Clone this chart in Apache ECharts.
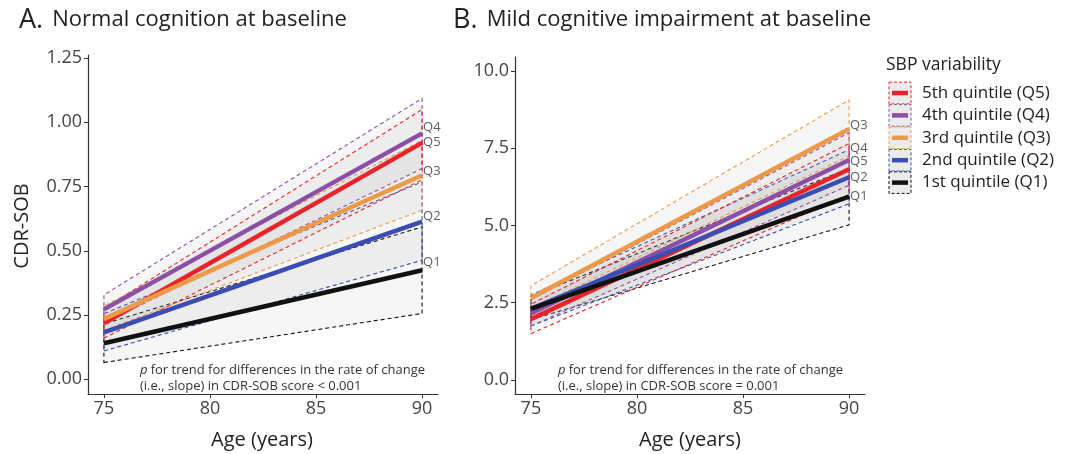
<!DOCTYPE html>
<html>
<head>
<meta charset="utf-8">
<script src="https://cdn.jsdelivr.net/npm/echarts@6/dist/echarts.min.js"></script>
<style>
  html, body { margin: 0; padding: 0; background: #fff; }
  #chart { width: 1069px; height: 454px; }
</style>
</head>
<body>
<div id="chart"></div>
<script>
// ages at the two ends of each fitted line
const ages = [75, 90];
const quintiles = ['Q1', 'Q2', 'Q3', 'Q4', 'Q5'];
const colors = ['#111111', '#3b4cb2', '#ec9a48', '#8b50a6', '#e8242a'];

// A. normal cognition, values ordered Q1..Q5
const normStart = [0.140, 0.182, 0.235, 0.272, 0.218];
const normEnd = [0.424, 0.613, 0.794, 0.957, 0.920];
const normLoStart = [0.065, 0.110, 0.190, 0.220, 0.160];
const normLoEnd = [0.256, 0.463, 0.658, 0.820, 0.776];
const normHiStart = [0.215, 0.255, 0.285, 0.328, 0.275];
const normHiEnd = [0.593, 0.768, 0.930, 1.093, 1.050];
const normLabelY = [0.457, 0.635, 0.811, 0.982, 0.924];

// B. mild cognitive impairment, values ordered Q1..Q5
const mciStart = [2.30, 2.30, 2.65, 2.15, 1.97];
const mciEnd = [5.93, 6.56, 8.12, 7.12, 6.82];
const mciLoStart = [1.95, 1.75, 2.30, 1.75, 1.50];
const mciLoEnd = [5.02, 5.70, 7.25, 6.30, 6.00];
const mciHiStart = [2.70, 2.75, 3.05, 2.60, 2.45];
const mciHiEnd = [6.85, 7.45, 9.06, 8.00, 7.65];
const mciLabelY = [5.95, 6.56, 8.25, 7.50, 7.08];

const xTicks = [75, 80, 85, 90];
const normTicks = [0, 0.25, 0.5, 0.75, 1.0, 1.25];
const mciTicks = [0, 2.5, 5.0, 7.5, 10.0];
const legendNames = ['5th quintile (Q5)', '4th quintile (Q4)', '3rd quintile (Q3)',
  '2nd quintile (Q2)', '1st quintile (Q1)'];

const font = 'Open Sans';
const axisColor = '#333';
const textColor = '#444';

const chart = echarts.init(document.getElementById('chart'), null, { renderer: 'canvas' });

const bandItem = (params, api) => {
  const p0 = api.coord([api.value(0), api.value(1)]);
  const p1 = api.coord([api.value(3), api.value(4)]);
  const p2 = api.coord([api.value(3), api.value(5)]);
  const p3 = api.coord([api.value(0), api.value(2)]);
  return {
    type: 'polygon',
    shape: { points: [p0, p1, p2, p3] },
    style: {
      fill: 'rgba(150,150,150,0.085)',
      stroke: api.visual('color'),
      lineWidth: 1.1,
      lineDash: [4, 3],
    },
  };
};

const buildSeries = (gi, start, end, loS, loE, hiS, hiE, labY) => {
  const out = [];
  quintiles.forEach((q, i) => {
    out.push({
      type: 'custom',
      xAxisIndex: gi,
      yAxisIndex: gi,
      renderItem: bandItem,
      itemStyle: { color: colors[i] },
      data: [[ages[0], loS[i], hiS[i], ages[1], loE[i], hiE[i]]],
      encode: { x: [0, 3], y: [1, 2, 4, 5] },
      silent: true,
      z: 1,
    });
  });
  // draw Q5 first so Q1 ends on top
  for (let i = quintiles.length - 1; i >= 0; i--) {
    out.push({
      type: 'line',
      xAxisIndex: gi,
      yAxisIndex: gi,
      data: [[ages[0], start[i]], [ages[1], end[i]]],
      showSymbol: false,
      lineStyle: { color: colors[i], width: 4.5 },
      silent: true,
      z: 3,
    });
  }
  out.push({
    type: 'scatter',
    xAxisIndex: gi,
    yAxisIndex: gi,
    symbolSize: 0,
    data: quintiles.map((q, i) => ({ name: q, value: [ages[1], labY[i]] })),
    label: {
      show: true,
      position: 'right',
      distance: 1,
      formatter: '{b}',
      color: '#333',
      fontFamily: font,
      fontSize: 13,
    },
    silent: true,
    z: 4,
  });
  return out;
};

const xAxisOf = (gi) => ({
  type: 'value',
  gridIndex: gi,
  min: 74.25,
  max: 90.75,
  axisLine: { show: true, onZero: false, lineStyle: { color: axisColor, width: 1.2 } },
  axisTick: { show: true, length: 4, customValues: xTicks, lineStyle: { color: axisColor } },
  axisLabel: { customValues: xTicks, color: textColor, fontFamily: font, fontSize: 18, margin: 6 },
  splitLine: { show: false },
});

const yAxisOf = (gi, min, max, ticks, digits) => ({
  type: 'value',
  gridIndex: gi,
  min,
  max,
  axisLine: { show: true, onZero: false, lineStyle: { color: axisColor, width: 1.2 } },
  axisTick: { show: true, length: 4, customValues: ticks, lineStyle: { color: axisColor } },
  axisLabel: {
    customValues: ticks,
    color: textColor,
    fontFamily: font,
    fontSize: 18,
    margin: 6,
    formatter: (v) => v.toFixed(digits),
  },
  splitLine: { show: false },
});

const txt = (x, y, text, extra) => ({
  type: 'text',
  x,
  y,
  style: Object.assign({ text, fontFamily: font, fill: '#222' }, extra),
});

const noteRich = {
  i: { fontStyle: 'italic', fontFamily: font, fontSize: 13, fill: '#333' },
  n: { fontFamily: font, fontSize: 13, fill: '#333' },
};

const titleRich = {
  a: { fontSize: 27, fontFamily: font, fill: '#222', padding: [0, 6, 0, 0] },
  b: { fontSize: 22, fontFamily: font, fill: '#222' },
};

const graphics = [
  txt(19, 20, '{a|A.} {b|Normal cognition at baseline}', { verticalAlign: 'middle', rich: titleRich }),
  txt(453, 20, '{a|B.} {b|Mild cognitive impairment at baseline}', { verticalAlign: 'middle', rich: titleRich }),
  {
    type: 'text',
    x: 22,
    y: 226,
    rotation: Math.PI / 2,
    style: { text: 'CDR-SOB', fontFamily: font, fontSize: 20, fill: '#222', align: 'center', verticalAlign: 'middle' },
  },
  txt(262, 440, 'Age (years)', { fontSize: 20, align: 'center', verticalAlign: 'middle' }),
  txt(690, 440, 'Age (years)', { fontSize: 20, align: 'center', verticalAlign: 'middle' }),
  txt(140, 363, '{i|p} {n|for trend for differences in the rate of change}\n{n|(i.e., slope) in CDR-SOB score < 0.001}', {
    lineHeight: 15.5, rich: noteRich,
  }),
  txt(558, 363, '{i|p} {n|for trend for differences in the rate of change}\n{n|(i.e., slope) in CDR-SOB score = 0.001}', {
    lineHeight: 15.5, rich: noteRich,
  }),
  txt(886, 65, 'SBP variability', { fontSize: 17.5, verticalAlign: 'middle' }),
];

// legend keys: dashed grey box with a thick coloured line
legendNames.forEach((name, k) => {
  const ci = quintiles.length - 1 - k;
  const yc = 93 + k * 22.4;
  graphics.push({
    type: 'rect',
    shape: { x: 889, y: yc - 10.8, width: 22, height: 21.6 },
    style: { fill: '#ebebeb', stroke: colors[ci], lineWidth: 1, lineDash: [3, 2] },
  });
  graphics.push({
    type: 'line',
    shape: { x1: 892, y1: yc, x2: 908, y2: yc },
    style: { stroke: colors[ci], lineWidth: 4.5 },
  });
  graphics.push(txt(922, yc, name, { fontSize: 17, verticalAlign: 'middle' }));
});

const option = {
  animation: false,
  backgroundColor: '#fff',
  grid: [
    { left: 88, top: 55, width: 350, height: 339 },
    { left: 515, top: 57, width: 350, height: 337 },
  ],
  xAxis: [xAxisOf(0), xAxisOf(1)],
  yAxis: [
    yAxisOf(0, -0.0575, 1.262, normTicks, 2),
    yAxisOf(1, -0.453, 10.45, mciTicks, 1),
  ],
  series: [
    ...buildSeries(0, normStart, normEnd, normLoStart, normLoEnd, normHiStart, normHiEnd, normLabelY),
    ...buildSeries(1, mciStart, mciEnd, mciLoStart, mciLoEnd, mciHiStart, mciHiEnd, mciLabelY),
  ],
  graphic: graphics,
};

chart.setOption(option);
</script>
</body>
</html>
